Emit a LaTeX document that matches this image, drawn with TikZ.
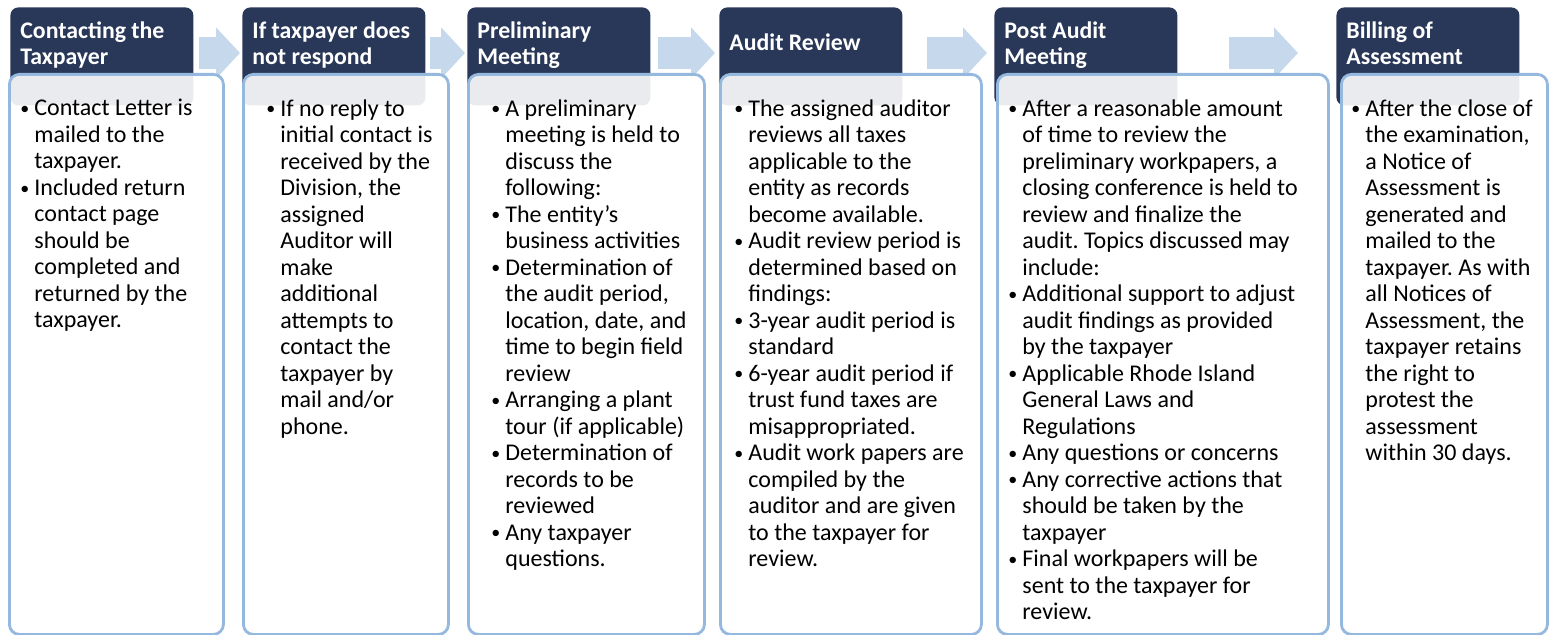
\documentclass[tikz,border=0pt]{standalone}
\usepackage{fontspec}
\setmainfont{Carlito}
\usepackage{tikz}
\usetikzlibrary{arrows.meta, positioning, calc}
\definecolor{headNavy}{HTML}{293859}
\definecolor{flowBlue}{HTML}{C6D9EC}
\definecolor{edgeBlue}{HTML}{95B8DE}
\newcommand{\itm}{\llap{\raisebox{0.6pt}{\scalebox{0.75}{\textbullet}}\hspace{2.5pt}}}
\frenchspacing

\begin{document}
\begin{tikzpicture}[
    x=0.5pt, y=-0.5pt,
    headbox/.style={fill=headNavy, rounded corners=4pt, minimum width=91.5pt,
                    minimum height=49pt, inner sep=0pt, anchor=north west},
    headtext/.style={text=white, font=\fontsize{11.9}{13}\selectfont\bfseries,
                     align=left, anchor=west, inner sep=0pt},
    bodybox/.style={draw=edgeBlue, line width=1.4pt, fill=white, fill opacity=0.9,
                    rounded corners=5pt, minimum height=280pt, inner sep=0pt,
                    anchor=north west},
    bodytext/.style={font=\fontsize{12}{13.25}\selectfont, align=left,
                     anchor=north west, inner sep=0pt},
    flow/.style={flowBlue, line width=16pt,
                 -{Triangle[length=12pt, width=25pt]}},
]
\useasboundingbox (0,0) rectangle (1551,635);

% Step headers
\node[headbox] (h1) at (10,7) {};
\node[headbox] (h2) at (242,7) {};
\node[headbox] (h3) at (467,7) {};
\node[headbox] (h4) at (719,7) {};
\node[headbox] (h5) at (994,7) {};
\node[headbox] (h6) at (1336,7) {};

% Flow arrows
\draw[flow] ($(h1.north east)+(5,46)$) -- ($(h2.north west)+(-2,46)$);
\draw[flow] ($(h2.north east)+(4,46)$) -- ($(h3.north west)+(-2,46)$);
\draw[flow] ($(h3.north east)+(7,46)$) -- ($(h4.north west)+(-4,46)$);
\draw[flow] ($(h4.north east)+(24,46)$) -- ($(h5.north west)+(-7,46)$);
\draw[flow] ($(h5.north east)+(51,46)$) -- ($(h6.north west)+(-38,46)$);

% Step bodies
\node[bodybox, minimum width=107pt] (b1) at (8,73) {};
\node[bodybox, minimum width=102.5pt] (b2) at (242,73) {};
\node[bodybox, minimum width=118pt] (b3) at (467,73) {};
\node[bodybox, minimum width=130.5pt] (b4) at (719,73) {};
\node[bodybox, minimum width=165.5pt] (b5) at (996,73) {};
\node[bodybox, minimum width=103pt] (b6) at (1340,73) {};

% Header labels
\node[headtext] (l1) at ($(h1.north west)+(10,38)$) {Contacting the\\Taxpayer};
\node[headtext] (l2) at ($(h2.north west)+(10,38)$) {If taxpayer does\\not respond};
\node[headtext] (l3) at ($(h3.north west)+(10,38)$) {Preliminary\\Meeting};
\node[headtext] (l4) at ($(h4.north west)+(10,35)$) {Audit Review};
\node[headtext] (l5) at ($(h5.north west)+(10,38)$) {Post Audit\\Meeting};
\node[headtext] (l6) at ($(h6.north west)+(10,36)$) {Billing of\\Assessment};

% Body texts
\node[bodytext] (t1) at (34,99) {\itm Contact Letter is\\mailed to the\\taxpayer.\\
    \itm Included return\\contact page\\should be\\completed and\\returned by the\\taxpayer.};
\node[bodytext] (t2) at (280,99) {\itm If no reply to\\initial contact is\\received by the\\
    Division, the\\assigned\\Auditor will\\make\\additional\\attempts to\\contact the\\
    taxpayer by\\mail and/or\\phone.};
\node[bodytext] (t3) at (505,99) {\itm A preliminary\\meeting is held to\\discuss the\\following:\\
    \itm The entity’s\\business activities\\
    \itm Determination of\\the audit period,\\location, date, and\\time to begin field\\review\\
    \itm Arranging a plant\\tour (if applicable)\\
    \itm Determination of\\records to be\\reviewed\\
    \itm Any taxpayer\\questions.};
\node[bodytext] (t4) at (748,99) {\itm The assigned auditor\\reviews all taxes\\applicable to the\\
    entity as records\\become available.\\
    \itm Audit review period is\\determined based on\\findings:\\
    \itm 3-year audit period is\\standard\\
    \itm 6-year audit period if\\trust fund taxes are\\misappropriated.\\
    \itm Audit work papers are\\compiled by the\\auditor and are given\\to the taxpayer for\\review.};
\node[bodytext] (t5) at (1022,99) {\itm After a reasonable amount\\of time to review the\\
    preliminary workpapers, a\\closing conference is held to\\review and finalize the\\
    audit. Topics discussed may\\include:\\
    \itm Additional support to adjust\\audit findings as provided\\by the taxpayer\\
    \itm Applicable Rhode Island\\General Laws and\\Regulations\\
    \itm Any questions or concerns\\
    \itm Any corrective actions that\\should be taken by the\\taxpayer\\
    \itm Final workpapers will be\\sent to the taxpayer for\\review.};
\node[bodytext] (t6) at (1365,99) {\itm After the close of\\the examination,\\a Notice of\\
    Assessment is\\generated and\\mailed to the\\taxpayer. As with\\all Notices of\\
    Assessment, the\\taxpayer retains\\the right to\\protest the\\assessment\\within 30 days.};
\end{tikzpicture}
\end{document}
